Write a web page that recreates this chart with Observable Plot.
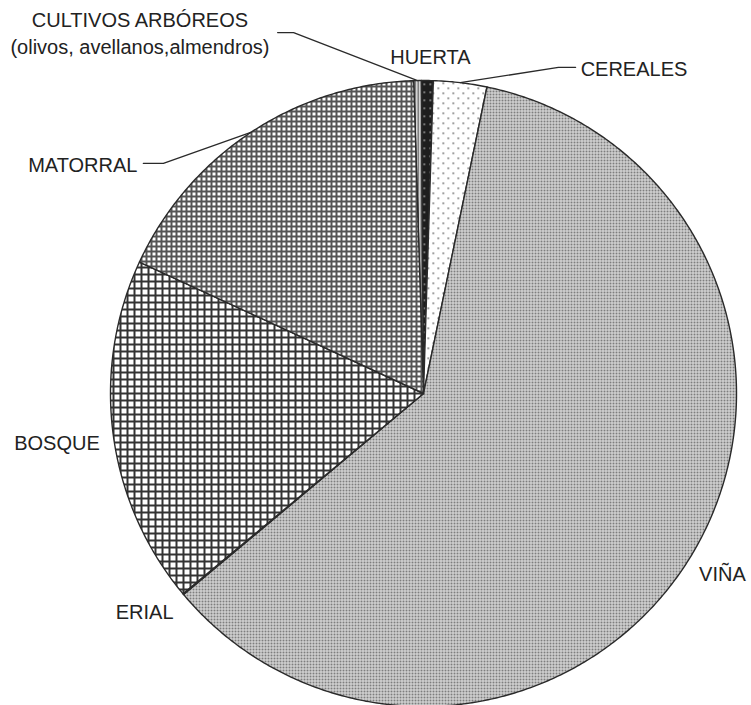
<!DOCTYPE html>
<html><head><meta charset="utf-8">
<script src="https://cdn.jsdelivr.net/npm/d3@7"></script>
<script src="https://cdn.jsdelivr.net/npm/@observablehq/plot@0.6"></script>
<style>body{margin:0;background:#fff} svg{display:block}</style>
</head><body><div id="chart"></div>
<script>
// ---- data (clockwise from the top) ----
const categories = ["CULTIVOS ARBÓREOS\n(olivos, avellanos,almendros)", "HUERTA", "CEREALES", "VIÑA", "ERIAL", "BOSQUE", "MATORRAL"];
const shares = [0.4, 0.6, 2.75, 60.65, 0.05, 17.95, 17.6];
const patterns = ["p-cult", "p-huerta", "p-cer", "p-vina", "p-erial", "p-bos", "p-mat"];

// ---- layout (unit-circle coordinates, radius = 1) ----
const START_DEG = -1.8;
const labelLayout = [
  {text: [-0.906, 1.155], anchor: "middle", leader: [[-0.415, 1.153], [-0.466, 1.153]]},
  {text: [0.022, 1.080], anchor: "middle"},
  {text: [0.502, 1.042], anchor: "start", leader: [[0.431, 1.042], [0.486, 1.042]]},
  {text: [0.955, -0.572], anchor: "middle"},
  {text: [-0.891, -0.693], anchor: "middle"},
  {text: [-1.171, -0.153], anchor: "middle"},
  {text: [-0.914, 0.735], anchor: "end", leader: [[-0.831, 0.735], [-0.895, 0.735]]}
];

const table = categories.map((c, i) => ({category: c, share: shares[i], pattern: patterns[i], layout: labelLayout[i]}));
const rad = Math.PI / 180;
const pie = d3.pie().sort(null).value(d => d.share)
  .startAngle(START_DEG * rad).endAngle((START_DEG + 360) * rad);
const arcs = pie(table).map(a => {
  const pts = [{x: 0, y: 0}];
  const n = Math.max(2, Math.ceil((a.endAngle - a.startAngle) / (0.5 * rad)));
  for (let k = 0; k <= n; k++) {
    const t = a.startAngle + (a.endAngle - a.startAngle) * k / n;
    pts.push({x: Math.sin(t), y: Math.cos(t)});
  }
  pts.push({x: 0, y: 0});
  const mid = (a.startAngle + a.endAngle) / 2;
  return {...a.data, points: pts, mid};
});

const font = "Liberation Sans, Arial, Helvetica, sans-serif";
const marks = [];
for (const a of arcs) {
  marks.push(Plot.line(a.points, {x: "x", y: "y", fill: `url(#${a.pattern})`, stroke: "#2a2a2a", strokeWidth: 1.4, strokeLinejoin: "round"}));
}
for (const a of arcs) {
  const L = a.layout;
  if (L.leader) {
    const pts = [{x: Math.sin(a.mid), y: Math.cos(a.mid)}, ...L.leader.map(([x, y]) => ({x, y}))];
    marks.push(Plot.line(pts, {x: "x", y: "y", stroke: "#2a2a2a", strokeWidth: 1.3}));
  }
  marks.push(Plot.text([a], {x: () => L.text[0], y: () => L.text[1], text: "category", textAnchor: L.anchor, lineAnchor: "middle", lineHeight: 1.35, fontSize: 20, fontFamily: font, fill: "#222"}));
}

const svg = Plot.plot({
  width: 751, height: 705,
  margin: 0,
  x: {domain: [-1, 1], range: [110, 736], axis: null},
  y: {domain: [-1, 1], range: [706, 80], axis: null},
  style: {background: "#fff", overflow: "hidden"},
  marks
});

// ---- fill patterns ----
const defs = d3.select(svg).insert("defs", ":first-child");
function pat(id, w, h) {
  return defs.append("pattern").attr("id", id).attr("patternUnits", "userSpaceOnUse").attr("width", w).attr("height", h);
}
let p = pat("p-vina", 3, 3);
p.append("rect").attr("width", 3).attr("height", 3).attr("fill", "#e2e2e2");
p.append("rect").attr("width", 2).attr("height", 2).attr("fill", "#7e7e7e");

p = pat("p-cer", 10, 10);
p.append("rect").attr("width", 10).attr("height", 10).attr("fill", "#ffffff");
p.append("rect").attr("x", 2).attr("y", 2).attr("width", 1.5).attr("height", 1.5).attr("fill", "#555");
p.append("rect").attr("x", 7).attr("y", 7).attr("width", 1.5).attr("height", 1.5).attr("fill", "#555");

p = pat("p-huerta", 6, 8);
p.append("rect").attr("width", 6).attr("height", 8).attr("fill", "#1e1e1e");
p.append("rect").attr("x", 3).attr("y", 3).attr("width", 1.5).attr("height", 1.5).attr("fill", "#bbb");

p = pat("p-cult", 3, 3);
p.append("rect").attr("width", 3).attr("height", 3).attr("fill", "#ffffff");
p.append("rect").attr("width", 1.5).attr("height", 3).attr("fill", "#555");

p = pat("p-erial", 4, 4);
p.append("rect").attr("width", 4).attr("height", 4).attr("fill", "#ffffff");

p = pat("p-mat", 5, 5);
p.append("rect").attr("width", 5).attr("height", 5).attr("fill", "#ffffff");
p.append("rect").attr("width", 5).attr("height", 2).attr("fill", "#555");
p.append("rect").attr("width", 2).attr("height", 5).attr("fill", "#555");

p = pat("p-bos", 7, 7);
p.append("rect").attr("width", 7).attr("height", 7).attr("fill", "#ffffff");
p.append("rect").attr("width", 7).attr("height", 2).attr("fill", "#333");
p.append("rect").attr("width", 2).attr("height", 7).attr("fill", "#333");

document.getElementById("chart").appendChild(svg);
</script>
</body></html>
